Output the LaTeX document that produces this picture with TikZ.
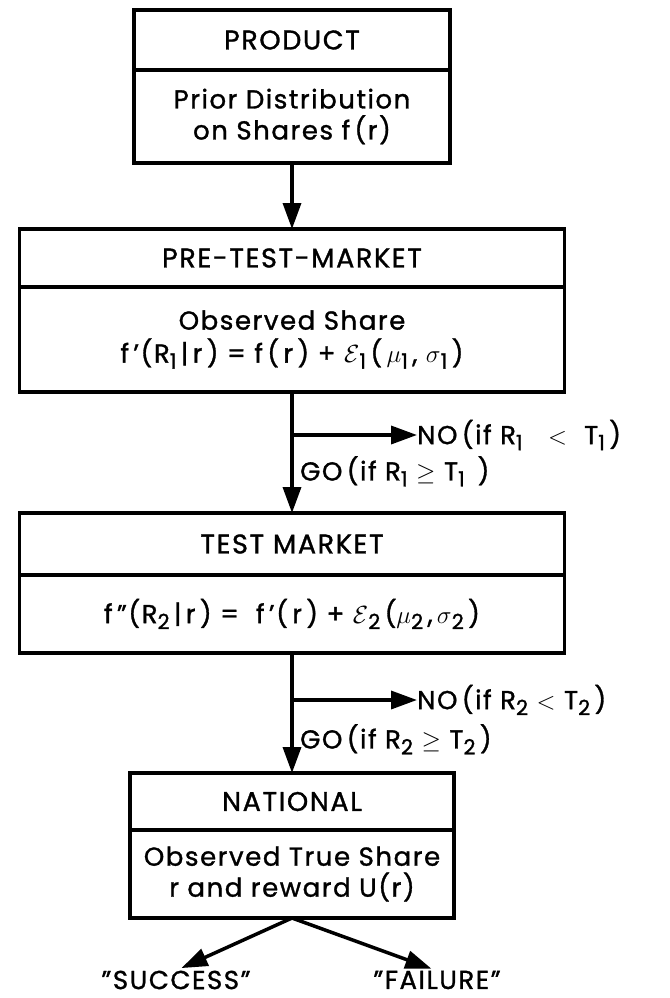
\documentclass[tikz,border=0pt]{standalone}
\usepackage{fontspec}
\setmainfont{Poppins}[LetterSpace=6, FakeBold=1.2]
\usepackage{tikz}
\usetikzlibrary{arrows.meta, positioning}
\newcommand{\capfont}{\fontsize{27}{32}\selectfont}
\newcommand{\txtfont}{\fontsize{26}{31}\selectfont}
% lowered index digit, drawn nearly full size
\newcommand{\idx}[1]{\raisebox{-6pt}{\fontsize{21}{21}\selectfont #1}}
\tikzset{
		head/.style={draw, line width=3.5pt, outer sep=0pt, inner sep=0pt, minimum width=#1, font=\capfont},
		body/.style={head=#1, align=center, font=\txtfont},
		flow/.style={->, line width=3.5pt},
		choice/.style={inner sep=0pt, font=\txtfont}
	}

\begin{document}
\begin{tikzpicture}[x=1pt, y=1pt, >={Triangle[length=26pt,width=18pt]}]
		\useasboundingbox (0,0) rectangle (669,-998);

		% stages
		\node[head=316pt, minimum height=60pt]                     (prodT) at (292,-40)   {PRODUCT};
		\node[body=316pt, minimum height=93pt, below=0pt of prodT]  (prodB)                {Prior Distribution\\on Shares f\,(r)};
		\node[head=545pt, minimum height=58pt]                     (pretT) at (292,-258)  {PRE-TEST-MARKET};
		\node[body=545pt, minimum height=105pt, below=0pt of pretT] (pretB)                {Observed Share\\[2pt]f\,'(R\idx{1}\,|\,r\,) = f\,(\,r\,) + $\mathcal{E}$\idx{1}\,(\,$\mu$\idx{1}\,, $\sigma$\idx{1}\,)};
		\node[head=545pt, minimum height=62pt]                     (testT) at (292,-544)  {TEST MARKET};
		\node[body=545pt, minimum height=78pt, below=0pt of testT]  (testB)                {f\,''(R\idx{2}\,|\,r\,)\ =\ \ f\,'(\,r\,) + $\mathcal{E}$\idx{2}\,($\mu$\idx{2}\,,\,$\sigma$\idx{2}\,)};
		\node[head=324pt, minimum height=57pt]                     (natT)  at (292,-801.5) {NATIONAL};
		\node[body=324pt, minimum height=88pt, below=0pt of natT]   (natB)                 {Observed True Share\\r and reward U(r)};

		% go / no decisions
		\path (pretB.south) ++(0,-43) coordinate (split1);
		\path (testB.south) ++(0,-47) coordinate (split2);
		\node[choice, right=125pt of split1]                (no1) {NO\,(if\ R\idx{1}\ \ \ $<$\ \ T\idx{1}\,)};
		\node[choice, below right=21pt and 8pt of split1]   (go1) {GO\,(if\ R\idx{1}\ $\geq$\ T\idx{1}\ \,)};
		\node[choice, right=125pt of split2]                (no2) {NO\,(if\ R\idx{2}\ $<$\ T\idx{2}\,)};
		\node[choice, below right=24pt and 8pt of split2]   (go2) {GO\,(if\ R\idx{2}\ $\geq$\ T\idx{2}\,)};

		% outcomes
		\node[choice] (succ) at (176,-980) {"SUCCESS"};
		\node[choice] (fail) at (437,-980) {"FAILURE"};

		\draw[flow] (prodB) -- (pretT);
		\draw[flow] (pretB) -- (testT);
		\draw[flow] (split1) -- (no1.west);
		\draw[flow] (testB) -- (natT);
		\draw[flow] (split2) -- (no2.west);
		\draw[flow, shorten >=6pt] (natB.south) -- (succ.north);
		\draw[flow, shorten >=6pt] (natB.south) -- (fail.north);

	\end{tikzpicture}
\end{document}
